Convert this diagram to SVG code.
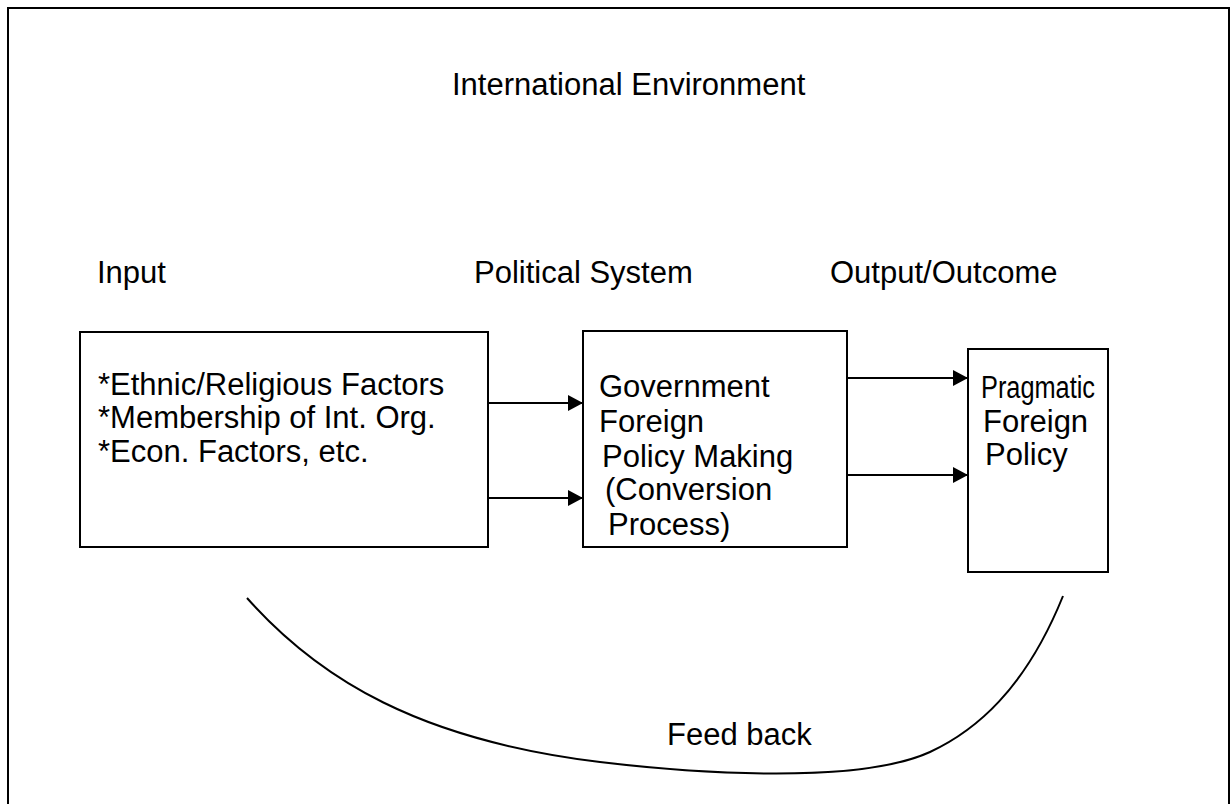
<svg xmlns="http://www.w3.org/2000/svg" width="1230" height="804" viewBox="0 0 1230 804">
<defs>
<style>
text{font-family:"Liberation Sans",Arial,sans-serif;font-size:31px;fill:#000}
.box{fill:#fff;stroke:#000;stroke-width:2}
.con{fill:none;stroke:#000;stroke-width:2}
</style>
<marker id="ah" markerUnits="userSpaceOnUse" markerWidth="16" markerHeight="16" refX="15" refY="8" orient="auto">
<path d="M0,0 L15,8 L0,16 Z" fill="#000"/>
</marker>
</defs>
<rect width="1230" height="804" fill="#fff"/>
<g id="frame"><path d="M8,820 V8 H1229 V820" fill="none" stroke="#000" stroke-width="2"/></g>
<g id="title"><text x="452" y="95">International Environment</text></g>
<g id="labels">
<text x="97" y="283">Input</text>
<text x="474" y="283">Political System</text>
<text x="830" y="283">Output/Outcome</text>
</g>
<g id="input">
<rect class="box" x="80" y="332" width="408" height="215"/>
<text x="98" y="395">*Ethnic/Religious Factors</text>
<text x="98" y="428">*Membership of Int. Org.</text>
<text x="98" y="462">*Econ. Factors, etc.</text>
</g>
<g id="system">
<rect class="box" x="583" y="331" width="264" height="216"/>
<text x="599" y="397">Government</text>
<text x="599" y="432">Foreign</text>
<text x="602" y="467">Policy Making</text>
<text x="605" y="500">(Conversion</text>
<text x="608" y="535">Process)</text>
</g>
<g id="output">
<rect class="box" x="968" y="349" width="140" height="223"/>
<text x="981" y="398" textLength="114" lengthAdjust="spacingAndGlyphs">Pragmatic</text>
<text x="983" y="432">Foreign</text>
<text x="985" y="465">Policy</text>
</g>
<g id="connectors">
<line class="con" x1="488" y1="403" x2="583" y2="403" marker-end="url(#ah)"/>
<line class="con" x1="488" y1="498" x2="583" y2="498" marker-end="url(#ah)"/>
<line class="con" x1="848" y1="378" x2="968" y2="378" marker-end="url(#ah)"/>
<line class="con" x1="848" y1="475" x2="968" y2="475" marker-end="url(#ah)"/>
<path class="con" d="M247,598 C320,680 420,740 600,762 C700,774 860,784 930,752 C975,731 1025,690 1063,596"/>
</g>
<g id="feedback"><text x="667" y="745">Feed back</text></g>
</svg>
